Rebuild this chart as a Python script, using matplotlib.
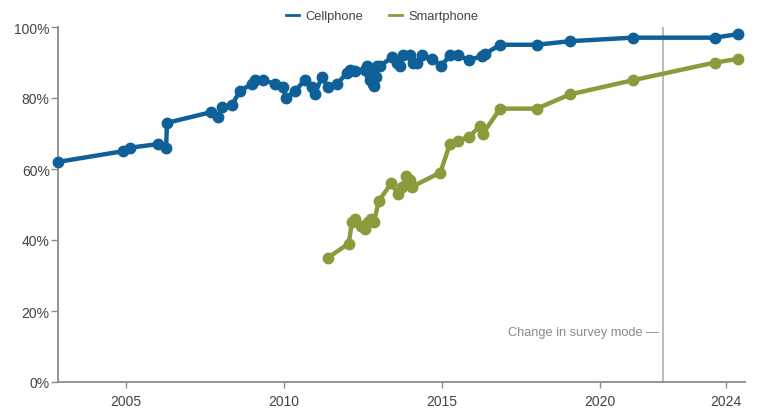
import matplotlib
matplotlib.use("Agg")
import matplotlib.pyplot as plt
from matplotlib.lines import Line2D

cell_years = [2002.85, 2004.9, 2005.13, 2006.01, 2006.27, 2006.3, 2007.69, 2007.91, 2008.04,
              2008.35, 2008.61, 2008.99, 2009.08, 2009.34, 2009.72, 2009.97, 2010.06, 2010.35,
              2010.66, 2010.89, 2010.98, 2011.2, 2011.39, 2011.68, 2011.99, 2012.09, 2012.25,
              2012.55, 2012.63, 2012.68, 2012.72, 2012.77, 2012.82, 2012.86, 2012.9, 2012.95,
              2013.04, 2013.42, 2013.58, 2013.67, 2013.77,
              2013.99, 2014.08, 2014.2, 2014.37, 2014.68, 2014.97, 2015.25, 2015.5, 2015.85,
              2016.27, 2016.36, 2016.84, 2018.0, 2019.05, 2021.04, 2023.64, 2024.37]
cell_vals = [62, 65, 66, 67, 66, 73, 76, 74.6, 77.5,
             78, 82, 84, 85, 85, 84, 83, 80, 82,
             85, 83, 81, 86, 83, 84, 87, 88, 87.6,
             88, 89, 87, 85, 87, 84, 83.5, 86, 89,
             89, 91.5, 90, 89, 92,
             92, 90, 90, 92, 91, 89, 92, 92, 90.7,
             91.8, 92.4, 95, 95, 96, 97, 97, 98]

smart_years = [2011.39, 2012.05, 2012.15, 2012.25, 2012.45, 2012.55, 2012.65, 2012.75, 2012.85,
               2013.0, 2013.4, 2013.6, 2013.75, 2013.85, 2014.0, 2014.05, 2014.95, 2015.25,
               2015.5, 2015.85, 2016.2, 2016.3, 2016.84, 2018.0, 2019.05, 2021.04, 2023.64, 2024.37]
smart_vals = [35, 39, 45, 46, 44, 43, 45, 46, 45,
              51, 56, 53, 55, 58, 57, 55, 59, 67,
              68, 69, 72, 70, 77, 77, 81, 85, 90, 91]

xtick_vals = [2005, 2010, 2015, 2020, 2024]
ytick_vals = [0, 20, 40, 60, 80, 100]
ytick_labels = ["0%", "20%", "40%", "60%", "80%", "100%"]
mode_change_year = 2022.0

cell_color = "#0f6098"
smart_color = "#8b9b3c"
axis_color = "#8c8c8c"
text_color = "#444444"

plt.rcParams['font.family'] = ['Liberation Sans', 'DejaVu Sans']

fig = plt.figure(figsize=(7.57, 4.10), dpi=100)
ax = fig.add_axes([58/757, 1-383/410, (745-58)/757, (383-28)/410])

ax.plot(cell_years, cell_vals, color=cell_color, lw=3.2, marker='o', ms=7.5,
        clip_on=False, zorder=3, solid_joinstyle='round')
ax.plot(smart_years, smart_vals, color=smart_color, lw=3.2, marker='o', ms=7.5,
        clip_on=False, zorder=3, solid_joinstyle='round')

ax.axvline(mode_change_year, color="#b0b0b0", lw=1.2, zorder=1)
ax.text(mode_change_year - 0.12, 14, "Change in survey mode —", ha='right', va='center',
        fontsize=9.2, color="#8a8a8a")

ax.set_xlim(2002.85, 2024.59)
ax.set_ylim(0, 100)
ax.set_xticks(xtick_vals)
ax.set_xticklabels([str(v) for v in xtick_vals])
ax.set_yticks(ytick_vals)
ax.set_yticklabels(ytick_labels)

for s in ['top', 'right']:
    ax.spines[s].set_visible(False)
for s in ['left', 'bottom']:
    ax.spines[s].set_color(axis_color)
    ax.spines[s].set_linewidth(1.3)

ax.tick_params(axis='both', colors=axis_color, labelcolor=text_color, labelsize=10, width=1)
ax.tick_params(axis='y', length=5, pad=1)
ax.tick_params(axis='x', length=4, pad=5)

handles = [Line2D([0], [0], color=cell_color, lw=2),
           Line2D([0], [0], color=smart_color, lw=2)]
fig.legend(handles, ["Cellphone", "Smartphone"], loc='center', bbox_to_anchor=(0.505, 1-17/410),
           ncol=2, frameon=False, fontsize=9.3, handlelength=1.0, handletextpad=0.5,
           columnspacing=2.0, labelcolor=text_color)

fig.savefig("out.png", dpi=100)
